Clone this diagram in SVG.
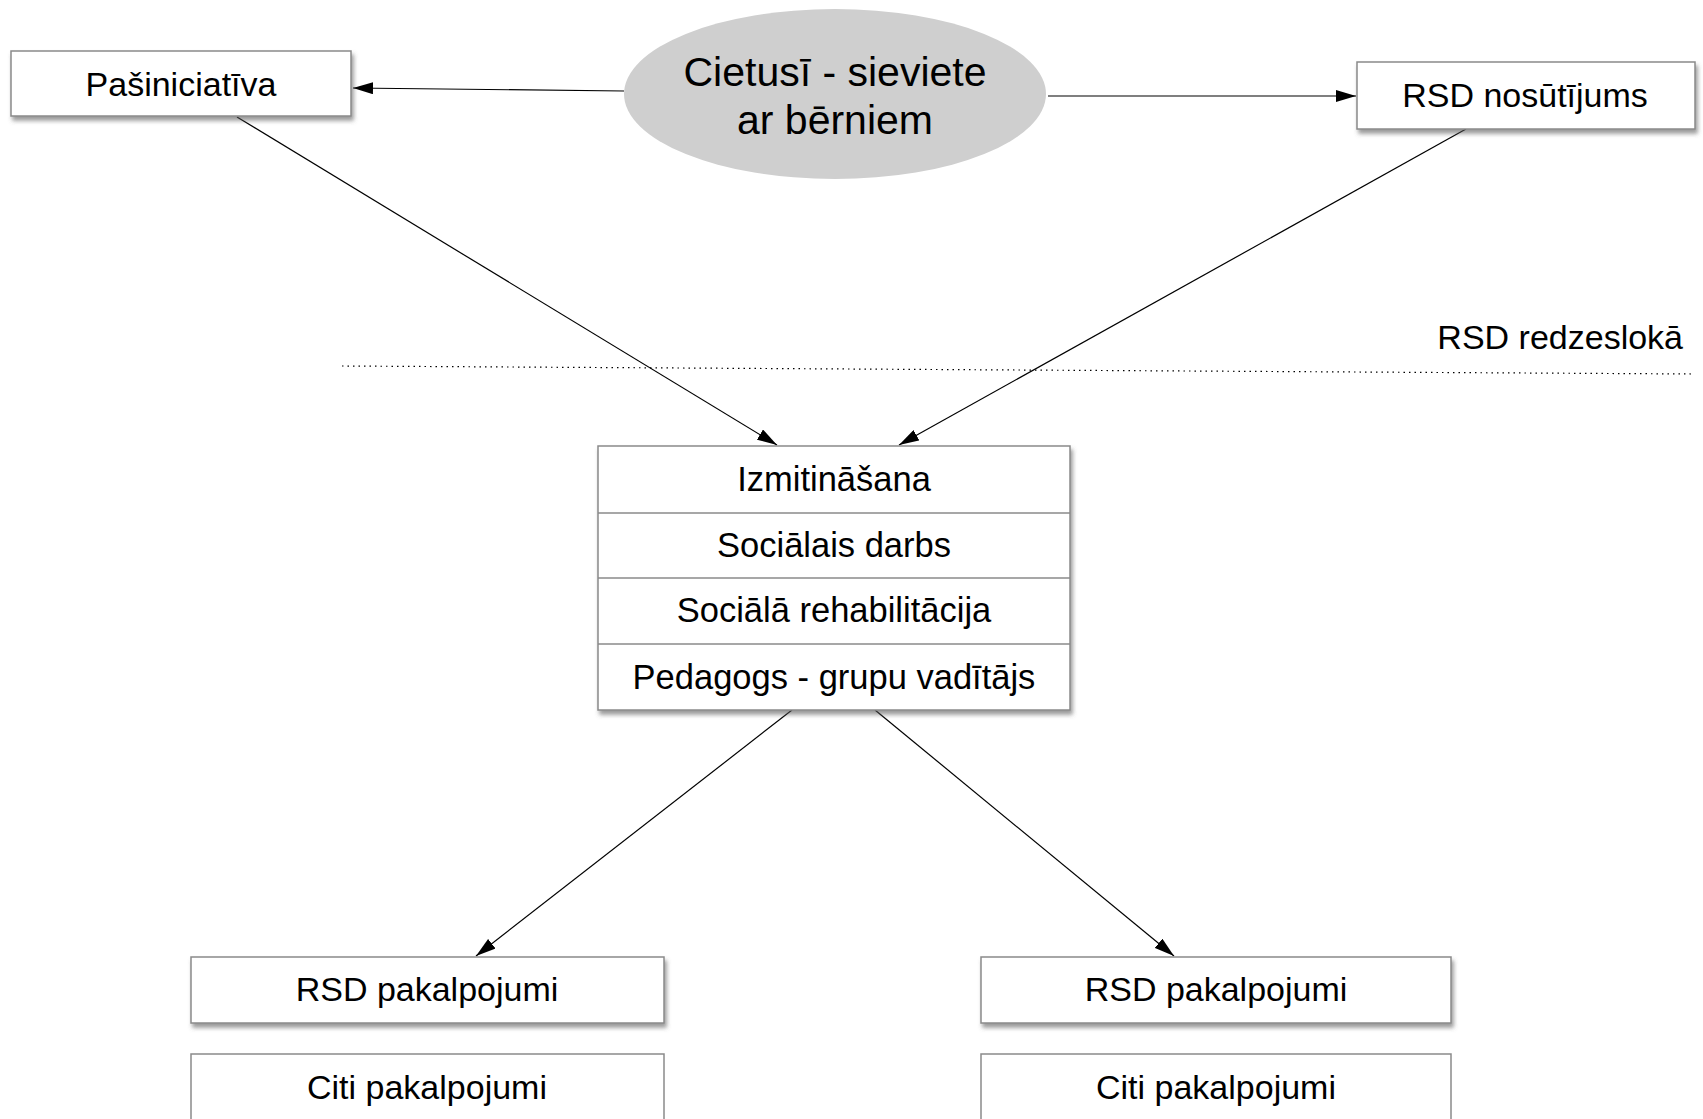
<svg xmlns="http://www.w3.org/2000/svg" width="1703" height="1119" viewBox="0 0 1703 1119">
<defs>
<style>
.box{fill:#fff;stroke:#8a8a8a;stroke-width:1.5;}
.sh{filter:url(#shadow);}
.t{font-family:"Liberation Sans",Arial,sans-serif;font-size:34px;fill:#000;text-anchor:middle;dominant-baseline:central;}
.big{font-size:41px;}
.mid{font-size:34.5px;}
.c{stroke:#000;stroke-width:1.2;fill:none;marker-end:url(#ah);}
.sep{stroke:#8a8a8a;stroke-width:1.5;}
</style>
<filter id="shadow" x="-5%" y="-10%" width="115%" height="140%">
<feDropShadow dx="2" dy="4" stdDeviation="2" flood-color="#555" flood-opacity="0.6"/>
</filter>
<marker id="ah" viewBox="0 0 20 12" refX="20" refY="6" markerWidth="20" markerHeight="12" markerUnits="userSpaceOnUse" orient="auto">
<path d="M0,0 L20,6 L0,12 Z" fill="#000"/>
</marker>
</defs>
<g id="connectors">
<path class="c" d="M624,91 L353,88"/>
<path class="c" d="M1048,96 L1356,96"/>
<path class="c" d="M237,117 L777,445"/>
<path class="c" d="M1466,129 L899,445"/>
<path class="c" d="M792,710 L476,956"/>
<path class="c" d="M875,710 L1174,956"/>
</g>
<g id="boundary">
<path d="M342,366 L1694,374" stroke="#000" stroke-width="1.2" stroke-dasharray="1.5,4" fill="none"/>
<text class="t" x="1683" y="337" text-anchor="end" style="text-anchor:end">RSD redzeslokā</text>
</g>
<g id="cietusi">
<ellipse cx="835" cy="94" rx="211" ry="85" fill="#cfcfcf"/>
<text class="t big" x="835" y="72">Cietusī - sieviete</text>
<text class="t big" x="835" y="120">ar bērniem</text>
</g>
<g id="pasiniciativa">
<rect class="box sh" x="11" y="51" width="340" height="65"/>
<text class="t" x="181" y="84">Pašiniciatīva</text>
</g>
<g id="rsd-nosutijums">
<rect class="box sh" x="1357" y="62" width="338" height="67"/>
<text class="t" x="1525" y="95">RSD nosūtījums</text>
</g>
<g id="centrs">
<rect class="box sh" x="598" y="446" width="472" height="264"/>
<line class="sep" x1="598" y1="513" x2="1070" y2="513"/>
<line class="sep" x1="598" y1="578" x2="1070" y2="578"/>
<line class="sep" x1="598" y1="644" x2="1070" y2="644"/>
<text class="t mid" x="834" y="479">Izmitināšana</text>
<text class="t mid" x="834" y="545">Sociālais darbs</text>
<text class="t mid" x="834" y="610">Sociālā rehabilitācija</text>
<text class="t mid" x="834" y="677">Pedagogs - grupu vadītājs</text>
</g>
<g id="rsd-pakalpojumi-1">
<rect class="box sh" x="191" y="957" width="473" height="66"/>
<text class="t" x="427" y="989">RSD pakalpojumi</text>
</g>
<g id="citi-pakalpojumi-1">
<rect class="box" x="191" y="1054" width="473" height="80"/>
<text class="t" x="427" y="1087">Citi pakalpojumi</text>
</g>
<g id="rsd-pakalpojumi-2">
<rect class="box sh" x="981" y="957" width="470" height="66"/>
<text class="t" x="1216" y="989">RSD pakalpojumi</text>
</g>
<g id="citi-pakalpojumi-2">
<rect class="box" x="981" y="1054" width="470" height="80"/>
<text class="t" x="1216" y="1087">Citi pakalpojumi</text>
</g>
</svg>
